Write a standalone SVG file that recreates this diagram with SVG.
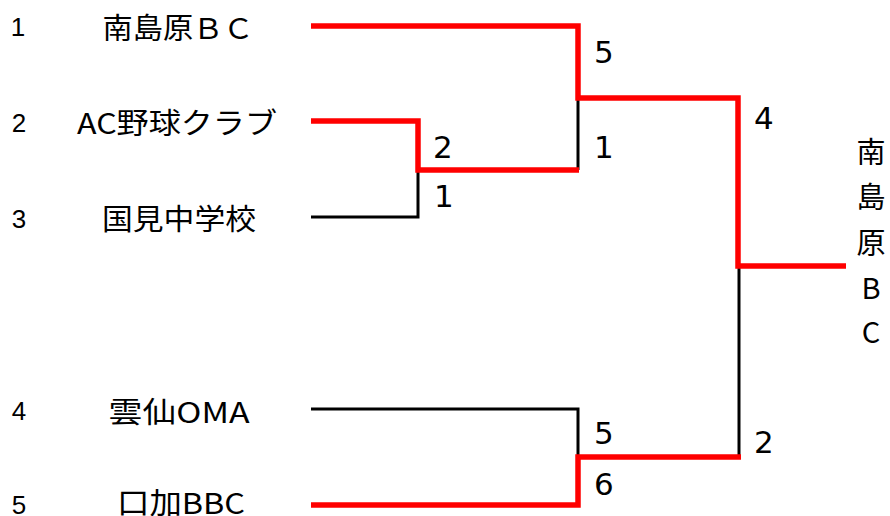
<svg xmlns="http://www.w3.org/2000/svg" width="890" height="516" viewBox="0 0 890 516">
<style>
.seed{font-family:"Liberation Sans",Arial,sans-serif;font-size:26px;fill:#000;text-anchor:middle}
.team{font-family:"Noto Sans CJK JP","Noto Sans",sans-serif;font-size:29px;fill:#000;text-anchor:middle;dominant-baseline:central}
.score{font-family:"DejaVu Sans","Noto Sans",sans-serif;font-size:31px;fill:#000}
.champ{font-family:"Noto Sans CJK JP","Noto Sans",sans-serif;font-size:29px;fill:#000;text-anchor:middle;dominant-baseline:central}
.bk{fill:none;stroke:#000;stroke-width:3;stroke-linejoin:miter;stroke-linecap:butt}
.rd{fill:none;stroke:#ff0000;stroke-width:5.5;stroke-linejoin:miter;stroke-linecap:butt}
</style>
<rect width="890" height="516" fill="#fff"/>
<g id="connectors">
  <path class="bk" d="M311,217 H418 V170"/>
  <path class="bk" d="M578,98 V170"/>
  <path class="bk" d="M311,409 H578 V457"/>
  <path class="bk" d="M739,266 V457"/>
  <path class="rd" d="M311,26 H578 V98 H738 V266 H846"/>
  <path class="rd" d="M311,121 H418 V170 H579"/>
  <path class="rd" d="M311,505 H578 V457 H741"/>
</g>
<g id="team1"><text class="seed" x="18" y="36">1</text><text class="team" x="178" y="26" textLength="151" lengthAdjust="spacingAndGlyphs">南島原ＢＣ</text></g>
<g id="team2"><text class="seed" x="19" y="132">2</text><text class="team" x="177" y="121" textLength="200" lengthAdjust="spacingAndGlyphs">AC野球クラブ</text></g>
<g id="team3"><text class="seed" x="19" y="228">3</text><text class="team" x="179" y="217" textLength="154" lengthAdjust="spacingAndGlyphs">国見中学校</text></g>
<g id="team4"><text class="seed" x="19" y="420">4</text><text class="team" x="179" y="410" textLength="141" lengthAdjust="spacingAndGlyphs">雲仙OMA</text></g>
<g id="team5"><text class="seed" x="19" y="514">5</text><text class="team" x="181" y="501" textLength="128" lengthAdjust="spacingAndGlyphs">口加BBC</text></g>
<g id="scores">
  <text class="score" x="594" y="63">5</text>
  <text class="score" x="594" y="158">1</text>
  <text class="score" x="433" y="158">2</text>
  <text class="score" x="434" y="207">1</text>
  <text class="score" x="754" y="129">4</text>
  <text class="score" x="594" y="444">5</text>
  <text class="score" x="594" y="495">6</text>
  <text class="score" x="754" y="453">2</text>
</g>
<g id="champion">
  <text class="champ" x="871" y="150">南</text>
  <text class="champ" x="871" y="195">島</text>
  <text class="champ" x="871" y="241">原</text>
  <text class="champ" x="871" y="286">B</text>
  <text class="champ" x="871" y="330">C</text>
</g>
</svg>
